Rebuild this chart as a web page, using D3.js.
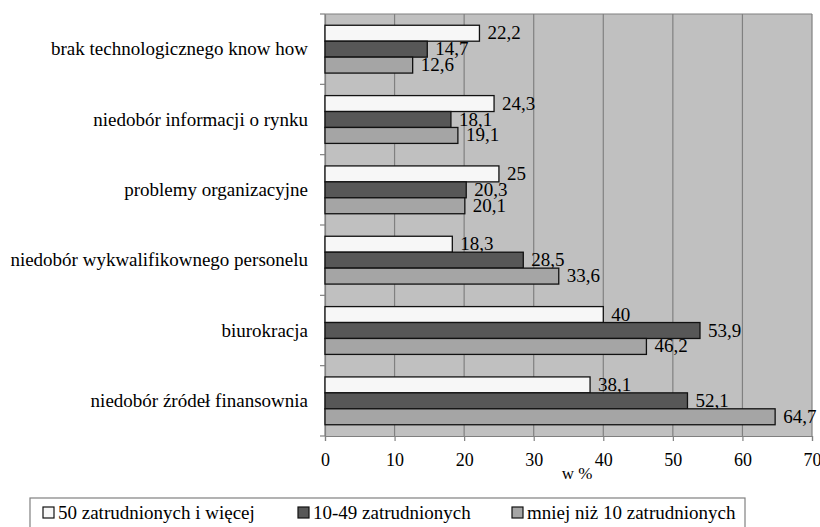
<!DOCTYPE html>
<html><head><meta charset="utf-8">
<script src="https://cdn.jsdelivr.net/npm/d3@7"></script>
<style>body{margin:0;background:#fff}svg{display:block}svg text{font-family:'Times New Roman','Liberation Serif',serif !important}</style>
</head><body><svg id="c" width="820" height="527"><style>text{font-family:'Times New Roman','Liberation Serif',serif !important}</style></svg>
<script>
const categories = ["brak technologicznego know how","niedobór informacji o rynku","problemy organizacyjne","niedobór wykwalifikownego personelu","biurokracja","niedobór źródeł finansownia"];
const seriesNames = ["50 zatrudnionych i więcej","10-49 zatrudnionych","mniej niż 10 zatrudnionych"];
const s50plus = [22.2,24.3,25,18.3,40,38.1];
const s10to49 = [14.7,18.1,20.3,28.5,53.9,52.1];
const sUnder10 = [12.6,19.1,20.1,33.6,46.2,64.7];
const xTicks = [0,10,20,30,40,50,60,70];
const colors = ["#f7f7f7","#575757","#a5a5a5"];
const seriesValues = [s50plus,s10to49,sUnder10];
const FONT = "Times New Roman";

const svg = d3.select("#c").attr("font-family",FONT);
const L=325,R=812,T=14,B=436;
const x = d3.scaleLinear().domain([0,70]).range([L,R]);
const y = d3.scaleBand().domain(categories).range([T,B]).paddingInner(0.32).paddingOuter(0.16);
const yb = d3.scaleBand().domain(categories).range([T,B]);
const ys = d3.scaleBand().domain([0,1,2]).range([0,y.bandwidth()]);

svg.append("rect").attr("x",L).attr("y",T).attr("width",R-L).attr("height",B-T).attr("fill","#c0c0c0");
svg.append("g").selectAll("line").data(xTicks).join("line")
  .attr("x1",d=>x(d)).attr("x2",d=>x(d)).attr("y1",T).attr("y2",B).attr("stroke","#808080").attr("stroke-width",1.2);
svg.append("line").attr("x1",L).attr("x2",R).attr("y1",T).attr("y2",T).attr("stroke","#808080").attr("stroke-width",1.2);

// x axis
const xa = svg.append("g").attr("transform",`translate(0,${B})`).call(d3.axisBottom(x).tickValues(xTicks).tickSize(5).tickPadding(12).tickFormat(d=>d));
xa.attr("font-family",FONT).attr("font-size",18);
xa.selectAll("path,line").attr("stroke","#808080").attr("stroke-width",1.2);
xa.selectAll("text").attr("font-family",FONT).attr("font-size",18).attr("fill","#000");
// y axis
const ya = svg.append("g").attr("transform",`translate(${L},0)`).call(d3.axisLeft(yb).tickSize(0).tickPadding(17));
ya.attr("font-family",FONT).attr("font-size",19);
ya.select("path").attr("stroke","#808080").attr("stroke-width",1.2);
ya.selectAll("text").attr("font-family",FONT).attr("font-size",19).attr("fill","#000");
svg.append("g").selectAll("line").data(d3.range(categories.length+1)).join("line")
  .attr("x1",L-5).attr("x2",L).attr("y1",i=>T+i*yb.step()).attr("y2",i=>T+i*yb.step()).attr("stroke","#808080").attr("stroke-width",1.2);

// bars
seriesValues.forEach((vals,si)=>{
  const g = svg.append("g");
  g.selectAll("rect").data(vals).join("rect")
    .attr("x",x(0)).attr("y",(d,i)=>y(categories[i])+ys(si))
    .attr("width",d=>x(d)-x(0)).attr("height",ys.bandwidth())
    .attr("fill",colors[si]).attr("stroke","#111").attr("stroke-width",1.3);
  g.selectAll("text").data(vals).join("text")
    .attr("x",d=>x(d)+8).attr("y",(d,i)=>y(categories[i])+ys(si)+ys.bandwidth()/2+6)
    .attr("font-family",FONT).attr("font-size",19).text(d=>String(d).replace(".",","));
});

svg.append("text").attr("x",577).attr("y",479).attr("text-anchor","middle").attr("font-family",FONT).attr("font-size",17).text("w %");

// legend
const lg = svg.append("g");
lg.append("rect").attr("x",30).attr("y",498).attr("width",715).attr("height",40).attr("fill","#fff").attr("stroke","#808080").attr("stroke-width",1.2);
const lx=[43,298,512];
seriesNames.forEach((n,i)=>{
  lg.append("rect").attr("x",lx[i]).attr("y",507).attr("width",11).attr("height",11).attr("fill",colors[i]).attr("stroke","#111").attr("stroke-width",1.2);
  lg.append("text").attr("x",lx[i]+15).attr("y",519).attr("font-family",FONT).attr("font-size",19).text(n);
});
</script></body></html>
